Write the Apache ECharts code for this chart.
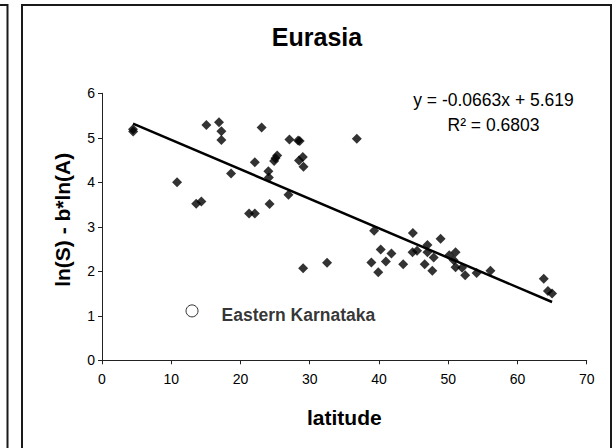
<!DOCTYPE html>
<html><head><meta charset="utf-8">
<script src="https://cdn.jsdelivr.net/npm/echarts@6/dist/echarts.min.js"></script>
<style>html,body{margin:0;padding:0;background:#fff}#c{width:614px;height:448px}</style>
</head><body><div id="c"></div>
<script>
const chartTitle = 'Eurasia';
const xName = 'latitude';
const yName = 'ln(S) - b*ln(A)';
const xTicks = [0, 10, 20, 30, 40, 50, 60, 70];
const yTicks = [0, 1, 2, 3, 4, 5, 6];

const latitude = [4.48, 4.5, 10.84, 13.6, 14.35, 15.07, 16.9, 17.24, 17.24, 18.64,
  21.24, 22.07, 22.07, 23.05, 24.03, 24.1, 24.2, 24.86, 25.05, 25.3,
  26.93, 27.07, 28.32, 28.55, 28.45, 29.0, 29.1, 29.05, 32.5, 36.8,
  39.3, 44.9, 48.9, 47.0, 40.25, 41.8, 44.85, 45.5, 47.0, 51.06,
  47.9, 50.15, 38.9, 41.0, 43.5, 46.6, 50.8, 51.06, 52.0, 39.9,
  47.7, 52.45, 54.1, 56.1, 63.8, 64.4, 65.0];
const value = [5.19, 5.14, 4.00, 3.52, 3.57, 5.29, 5.35, 5.15, 4.95, 4.20,
  3.30, 3.30, 4.45, 5.23, 4.25, 4.11, 3.51, 4.48, 4.54, 4.60,
  3.72, 4.96, 4.94, 4.93, 4.49, 4.57, 4.35, 2.07, 2.19, 4.98,
  2.91, 2.86, 2.73, 2.59, 2.49, 2.40, 2.43, 2.46, 2.43, 2.43,
  2.31, 2.36, 2.20, 2.22, 2.16, 2.16, 2.25, 2.09, 2.08, 1.98,
  2.01, 1.91, 1.96, 2.01, 1.83, 1.56, 1.50];

const outlierLat = [13.0];
const outlierVal = [1.11];
const outlierName = ['Eastern Karnataka'];

const trendLat = [4.48, 65.0];
const trendVal = [5.32, 1.31];

const equationText = ['y = -0.0663x + 5.619', 'R\u00B2 = 0.6803'];

const FONT = '"Liberation Sans", Arial, sans-serif';
const chart = echarts.init(document.getElementById('c'), null, {renderer: 'svg'});

const pts = latitude.map((x, i) => [x, value[i]]);
const outPts = outlierLat.map((x, i) => ({value: [x, outlierVal[i]], name: outlierName[i]}));
const trendPts = trendLat.map((x, i) => [x, trendVal[i]]);

chart.setOption({
  animation: false,
  backgroundColor: '#fff',
  textStyle: {fontFamily: FONT},
  grid: {left: 102, right: 27.3, top: 93.3, bottom: 87.7, containLabel: false},
  xAxis: {
    type: 'value', min: xTicks[0], max: xTicks[xTicks.length - 1], interval: xTicks[1] - xTicks[0],
    name: xName, nameLocation: 'middle', nameGap: 47,
    nameTextStyle: {fontFamily: FONT, fontSize: 21, fontWeight: 'bold', color: '#000'},
    axisLine: {show: true, onZero: false, lineStyle: {color: '#222', width: 1}},
    axisTick: {show: true, inside: false, length: 4, lineStyle: {color: '#222'}},
    axisLabel: {fontFamily: FONT, fontSize: 14, color: '#000', margin: 12},
    splitLine: {show: false}
  },
  yAxis: {
    type: 'value', min: yTicks[0], max: yTicks[yTicks.length - 1], interval: yTicks[1] - yTicks[0],
    name: yName, nameLocation: 'middle', nameGap: 29, nameRotate: 90,
    nameTextStyle: {fontFamily: FONT, fontSize: 21, fontWeight: 'bold', color: '#000', padding: [0, 0, 0, 14]},
    axisLine: {show: true, onZero: false, lineStyle: {color: '#222', width: 1}},
    axisTick: {show: true, inside: false, length: 4, lineStyle: {color: '#222'}},
    axisLabel: {fontFamily: FONT, fontSize: 14, color: '#000', margin: 7},
    splitLine: {show: false}
  },
  graphic: [
    {type: 'rect', shape: {x: 22, y: 5, width: 589, height: 480}, style: {fill: 'none', stroke: '#1a1a1a', lineWidth: 2}, silent: true},
    {type: 'polyline', shape: {points: [[0, 5], [7.5, 5], [7.5, 450]]}, style: {fill: 'none', stroke: '#1a1a1a', lineWidth: 2}, silent: true},
    {type: 'text', x: 317, y: 37, style: {text: chartTitle, font: 'bold 25px ' + FONT, fill: '#000', align: 'center', verticalAlign: 'middle'}},
    {type: 'text', x: 493.5, y: 100, style: {text: equationText[0], font: '17.5px ' + FONT, fill: '#000', align: 'center', verticalAlign: 'middle'}},
    {type: 'text', x: 493.5, y: 125, style: {text: equationText[1], font: '17.5px ' + FONT, fill: '#000', align: 'center', verticalAlign: 'middle'}}
  ],
  series: [
    {
      type: 'line', data: trendPts, showSymbol: false, symbol: 'none',
      lineStyle: {color: '#000', width: 2.5}, z: 3, silent: true
    },
    {
      type: 'scatter', data: pts, symbol: 'diamond', symbolSize: 10,
      itemStyle: {color: '#000'}, z: 2
    },
    {
      type: 'scatter', data: outPts, symbol: 'circle', symbolSize: 12,
      itemStyle: {color: '#fff', borderColor: '#000', borderWidth: 1}, z: 4,
      label: {show: true, position: 'right', distance: 23, offset: [0, 4], formatter: p => p.name,
        fontFamily: FONT, fontSize: 17.5, fontWeight: 'bold', color: '#000'}
    }
  ]
});
</script></body></html>
